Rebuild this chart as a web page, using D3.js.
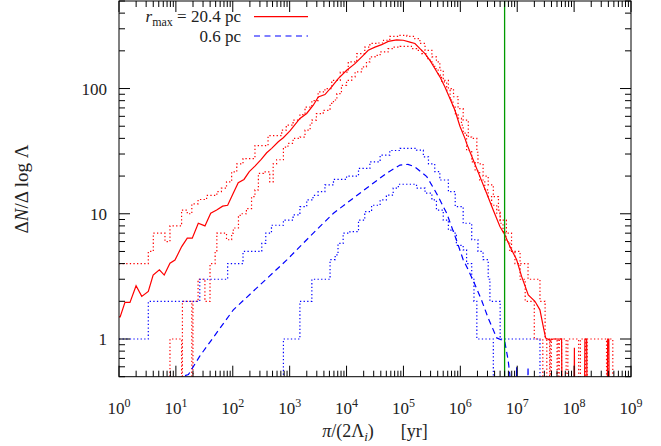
<!DOCTYPE html>
<html><head><meta charset="utf-8">
<script src="https://cdn.jsdelivr.net/npm/d3@7"></script>
<style>body{margin:0;background:#fff}svg{display:block}</style>
</head><body>
<svg id="c" width="661" height="446" font-family="'Liberation Serif','DejaVu Serif',serif"></svg>
<script>
// [log10(pi/(2 Lambda_i) / yr), dN/dlogLambda]
const redMid=[[0,1.5],[0.02,1.5],[0.105,1.96],[0.193,1.96],[0.30,2.66],[0.40,2.19],[0.515,2.4],[0.60,3.24],[0.71,3.57],[0.795,3.24],[0.896,4.03],[0.984,4.27],[1.102,5.47],[1.2,6.38],[1.288,6.38],[1.394,8.4],[1.511,8.0],[1.612,10.1],[1.717,10.7],[1.822,11.5],[1.91,11.7],[2.008,14.6],[2.096,17.7],[2.197,18.8],[2.29,21.7],[2.39,24],[2.5,27.2],[2.596,30.7],[2.684,33.3],[2.8,37.6],[2.888,40.5],[3.005,45.9],[3.181,57.7],[3.299,63.2],[3.415,73.6],[3.503,85.7],[3.62,89.5],[3.738,103],[3.854,120],[4.002,140],[4.148,158],[4.294,184],[4.381,202],[4.499,214],[4.617,224],[4.733,238],[4.88,245],[4.997,243],[5.114,235],[5.202,229],[5.29,208],[5.378,190],[5.466,168],[5.554,144],[5.641,124],[5.729,103],[5.817,83.2],[5.905,67.1],[5.993,50],[6.081,40],[6.11,36.5],[6.227,26.9],[6.344,19.8],[6.462,14.6],[6.578,10.7],[6.696,7.9],[6.784,6.78],[6.872,5.47],[6.99,4.29],[7.077,3.16],[7.194,2.25],[7.311,2.0],[7.399,1.71],[7.457,1.26],[7.499,1.02],[7.575,0.975],[7.633,1.0],[7.78,1.0],[7.80,0],[7.99,0],[8.005,0.85],[8.02,0],[8.17,0],[8.19,1],[8.22,1],[8.24,0],[8.57,0],[8.59,1],[8.61,1],[8.63,0],[9,0]];
const redHi=[[0,4],[0.515,5],[0.603,7],[0.808,6],[0.896,8],[1.10,10.7],[1.20,10],[1.28,12],[1.39,13],[1.54,14],[1.72,15],[1.80,16],[1.89,18],[1.98,21.6],[2.07,25],[2.18,27.6],[2.39,35],[2.62,42],[2.86,46.5],[2.94,51],[3.06,56],[3.18,62],[3.27,71],[3.39,80],[3.50,94],[3.62,100],[3.74,116],[3.89,135],[4.03,163],[4.18,190],[4.32,214],[4.41,229],[4.53,231],[4.65,243],[4.76,261],[4.91,266],[5.06,261],[5.20,250],[5.29,229],[5.38,202],[5.50,179],[5.58,163],[5.64,140],[5.70,116],[5.79,100],[5.88,86],[5.96,69],[6.05,56],[6.14,41],[6.20,40],[6.29,31],[6.31,25],[6.40,20],[6.49,17],[6.58,13.7],[6.67,10.7],[6.70,8.9],[6.81,7],[6.90,5],[7.05,4],[7.19,3],[7.40,2],[7.49,1],[7.57,0],[7.60,1],[7.70,0],[7.72,1],[7.86,0],[7.89,1],[8.08,0],[8.11,1],[8.20,0],[8.23,1],[8.57,0],[8.60,1],[8.68,0],[9,0]];
const redLo=[[0,0],[0.896,1],[1.10,0],[1.115,2],[1.28,0],[1.30,2],[1.39,3],[1.51,2],[1.60,4],[1.69,5],[1.72,7],[1.81,7],[1.89,6.2],[1.98,7],[2.01,7.7],[2.10,9.5],[2.13,10],[2.24,11],[2.33,13.7],[2.39,15.5],[2.45,21],[2.54,21.6],[2.65,18],[2.71,25],[2.77,27],[2.89,34],[2.97,36.5],[3.06,40],[3.18,41],[3.27,46.5],[3.36,52],[3.39,56],[3.47,63],[3.59,67],[3.71,76],[3.77,81],[3.83,91],[3.91,106],[4.0,116],[4.09,124],[4.15,136],[4.27,149],[4.35,163],[4.41,179],[4.50,184],[4.59,196],[4.73,208],[4.82,214],[4.94,217],[5.06,217],[5.14,208],[5.23,202],[5.32,190],[5.41,173],[5.47,163],[5.52,153],[5.55,144],[5.61,128],[5.67,113],[5.76,97],[5.82,81],[5.87,71],[5.91,63],[5.96,58],[6.02,51],[6.05,44],[6.11,32],[6.20,26],[6.26,22],[6.34,18.6],[6.43,15.5],[6.49,13.7],[6.55,11.7],[6.64,10],[6.70,8.4],[6.75,7.2],[6.80,6],[6.87,5],[6.96,4],[7.05,3],[7.14,2],[7.30,1],[7.45,0],[7.52,1],[7.58,0],[7.74,1],[7.78,0],[9,0]];
const blueMid=[[1.05,0.45],[1.10,0.5],[1.22,0.52],[1.42,0.73],[2.01,1.71],[2.95,4.28],[3.18,5.47],[3.53,7.9],[3.77,10.1],[4.35,16],[4.70,21],[4.94,24.5],[5.08,24.8],[5.20,23.7],[5.41,19.8],[5.58,14.6],[5.76,10.1],[5.93,6.2],[6.05,4.3],[6.11,3.8],[6.23,2.9],[6.37,2.06],[6.49,1.47],[6.64,1.02],[6.78,0.96],[6.84,0.68],[6.87,0.52],[6.90,0],[6.97,0],[6.99,0.6],[7.02,0],[7.17,0],[7.19,0.6],[7.22,0]];
const blueHi=[[0,1],[0.515,2],[1.42,3],[1.91,4],[2.18,5],[2.51,5.8],[2.58,7],[2.68,8.1],[2.89,8.9],[3.06,9.8],[3.18,11.4],[3.30,12.9],[3.41,14],[3.50,15],[3.62,17],[3.77,18.8],[4.0,20],[4.21,23],[4.41,26],[4.59,29.4],[4.76,32],[4.94,33.3],[5.11,33.3],[5.23,32.2],[5.35,28.5],[5.44,25],[5.55,21.7],[5.64,18.6],[5.79,15],[5.91,11.4],[6.05,8.4],[6.20,6.2],[6.31,5],[6.40,4.3],[6.49,3],[6.52,2],[6.70,1],[7.40,0],[9,0]];
const blueLo=[[0,0],[2.89,1],[3.18,2],[3.39,3],[3.71,4.3],[3.80,4.7],[3.85,5.8],[3.94,7],[4.06,7.2],[4.21,8.9],[4.32,10.4],[4.44,11.7],[4.59,12.9],[4.70,14.1],[4.82,16],[4.91,17.2],[5.11,17.2],[5.23,16],[5.38,14.6],[5.50,12.9],[5.58,10.7],[5.70,8.9],[5.79,7.4],[5.88,7],[5.93,5.6],[6.05,5.15],[6.11,4],[6.20,3],[6.24,2],[6.29,1],[6.58,0],[9,0]];
const markerLine=6.0e6;
const xTickExps=[0,1,2,3,4,5,6,7,8,9];
const yTickVals=[1,10,100];
const legendLabels=["20.4 pc","0.6 pc"];

const svg=d3.select("#c");
const L=119,R=631,T=1,B=376.7;
const x=d3.scaleLog().domain([1,1e9]).range([L,R]);
const y=d3.scaleLog().domain([0.5,500]).range([B,T]);
const FLOOR=0.05;
svg.append("defs").append("clipPath").attr("id","clip").append("rect").attr("x",L).attr("y",T).attr("width",R-L).attr("height",B-T);
const g=svg.append("g").attr("clip-path","url(#clip)");
const mk=(curve)=>d3.line().x(d=>x(Math.pow(10,d[0]))).y(d=>y(Math.max(d[1],FLOOR))).curve(curve);
const dot="1.3,2.3";
function draw(data,color,curve,dash,w){
  g.append("path").attr("d",mk(curve)(data)).attr("fill","none").attr("stroke",color).attr("stroke-width",w).attr("stroke-dasharray",dash);
}
draw(redHi,"#ff0000",d3.curveStepAfter,dot,1.2);
draw(redLo,"#ff0000",d3.curveStepAfter,dot,1.2);
draw(blueHi,"#0000ff",d3.curveStepAfter,dot,1.2);
draw(blueLo,"#0000ff",d3.curveStepAfter,dot,1.2);
draw(redMid,"#ff0000",d3.curveLinear,null,1.2);
draw(blueMid,"#0000ff",d3.curveLinear,"6,4",1.2);
g.append("line").attr("x1",x(markerLine)).attr("x2",x(markerLine)).attr("y1",T).attr("y2",B).attr("stroke","#009a00").attr("stroke-width",1.3);

// axes ticks
const ax=svg.append("g").attr("stroke","#000").attr("stroke-width",1);
const MAJ=11,MIN=6;
for(let e=0;e<=9;e++){
  for(let m=1;m<=9;m++){
    const v=m*Math.pow(10,e); if(v>1e9) break;
    const px=x(v), len=m===1?MAJ:MIN;
    ax.append("line").attr("x1",px).attr("x2",px).attr("y1",B).attr("y2",B-len);
    ax.append("line").attr("x1",px).attr("x2",px).attr("y1",T).attr("y2",T+len);
  }
}
for(let e=-1;e<=2;e++){
  for(let m=1;m<=9;m++){
    const v=m*Math.pow(10,e); if(v<0.5||v>500) continue;
    const py=y(v), len=m===1?MAJ:MIN;
    ax.append("line").attr("x1",L).attr("x2",L+len).attr("y1",py).attr("y2",py);
    ax.append("line").attr("x1",R).attr("x2",R-len).attr("y1",py).attr("y2",py);
  }
}
svg.append("rect").attr("x",L).attr("y",T).attr("width",R-L).attr("height",B-T).attr("fill","none").attr("stroke","#000").attr("stroke-width",1);

const txtFill="#222";
// tick labels
xTickExps.forEach(e=>{
  const t=svg.append("text").attr("x",x(Math.pow(10,e))).attr("y",414).attr("text-anchor","middle").attr("font-size",17).attr("fill",txtFill);
  t.append("tspan").text("10");
  t.append("tspan").attr("dy",-7).attr("font-size",12).text(e);
});
yTickVals.forEach(v=>{
  svg.append("text").attr("x",107).attr("y",y(v)+6).attr("text-anchor","end").attr("font-size",17).attr("fill",txtFill).text(v);
});

// axis titles
const xt=svg.append("text").attr("x",375).attr("y",437).attr("text-anchor","middle").attr("font-size",18).attr("fill",txtFill);
xt.append("tspan").attr("font-style","italic").text("π");
xt.append("tspan").text("/(2Λ");
xt.append("tspan").attr("font-style","italic").attr("font-size",13).attr("dy",4).text("i");
xt.append("tspan").attr("dy",-4).text(")\u2003\u2002[yr]");
const yt=svg.append("text").attr("transform","translate(28,189) rotate(-90)").attr("text-anchor","middle").attr("font-size",19).attr("fill",txtFill);
yt.append("tspan").text("Δ");
yt.append("tspan").attr("font-style","italic").text("N");
yt.append("tspan").text("/Δ log Λ");

// legend
const l1=svg.append("text").attr("x",241).attr("y",22).attr("text-anchor","end").attr("font-size",17).attr("fill",txtFill);
l1.append("tspan").attr("font-style","italic").text("r");
l1.append("tspan").attr("font-size",12).attr("dy",4).text("max");
l1.append("tspan").attr("dy",-4).text(" = "+legendLabels[0]);
svg.append("text").attr("x",241).attr("y",42).attr("text-anchor","end").attr("font-size",17).attr("fill",txtFill).text(legendLabels[1]);
svg.append("line").attr("x1",254).attr("x2",308).attr("y1",16.7).attr("y2",16.7).attr("stroke","#ff0000").attr("stroke-width",1.2);
svg.append("line").attr("x1",254).attr("x2",308).attr("y1",36).attr("y2",36).attr("stroke","#0000ff").attr("stroke-width",1.2).attr("stroke-dasharray","6,4.5");
</script>
</body></html>
